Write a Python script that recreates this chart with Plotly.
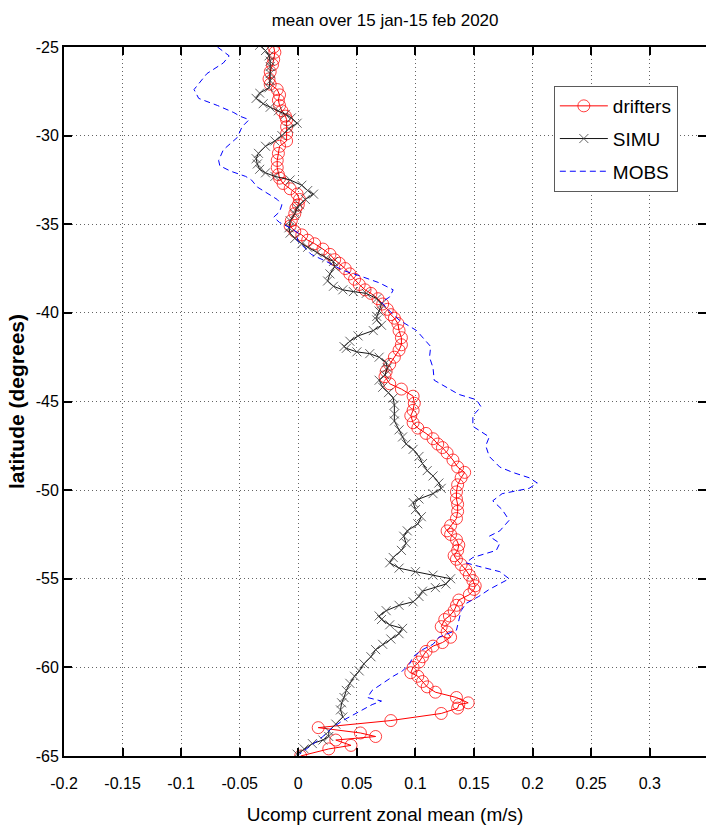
import plotly.graph_objects as go

# ---- data ----
drifters_lat = [-25.0, -25.3, -25.7, -26.0, -26.4, -26.8, -27.1, -27.4, -27.7, -28.0, -28.3, -28.6, -28.9,
                -29.1, -29.5, -29.9, -30.3, -30.6, -31.0, -31.4, -31.8, -32.2, -32.4, -32.7, -33.0, -33.3,
                -33.6, -33.9, -34.1, -34.4, -34.8, -35.1, -35.4, -35.6, -35.9, -36.1, -36.4, -36.7, -37.0,
                -37.2, -37.5, -37.8, -38.1, -38.4, -38.7, -38.9, -39.2, -39.5, -39.8, -40.1, -40.3, -40.6,
                -41.0, -41.4, -41.8, -42.1, -42.5, -42.9, -43.3, -43.6, -44.0, -44.3, -44.7, -45.1, -45.5,
                -45.8, -46.2, -46.5, -46.8, -47.1, -47.4, -47.6, -47.9, -48.3, -48.7, -49.0, -49.3, -49.7,
                -50.1, -50.5, -50.8, -51.2, -51.6, -52.0, -52.3, -52.5, -52.8, -53.1, -53.4, -53.7, -53.9,
                -54.2, -54.5, -54.8, -55.1, -55.4, -55.6, -55.9, -56.2, -56.5, -56.8, -57.1, -57.3, -57.7,
                -58.0, -58.3, -58.6, -58.8, -59.1, -59.4, -59.7, -60.0, -60.3, -60.5, -60.8, -61.1, -61.4,
                -61.7, -62.0, -62.1, -62.3, -62.6, -63.0, -63.4, -63.7, -63.9, -64.1, -64.4, -64.6, -65.0]
drifters_u = [-0.021, -0.020, -0.021, -0.022, -0.024, -0.025, -0.024, -0.018, -0.016, -0.017, -0.016, -0.014,
              -0.011, -0.010, -0.010, -0.010, -0.010, -0.016, -0.017, -0.018, -0.018, -0.017, -0.016, -0.013,
              -0.007, -0.001, 0.001, 0.000, -0.002, -0.003, -0.006, -0.007, -0.003, 0.003, 0.008, 0.014,
              0.021, 0.027, 0.031, 0.035, 0.040, 0.044, 0.048, 0.052, 0.057, 0.062, 0.068, 0.072, 0.076,
              0.079, 0.082, 0.085, 0.086, 0.088, 0.088, 0.086, 0.082, 0.078, 0.075, 0.074, 0.078, 0.088,
              0.098, 0.099, 0.098, 0.096, 0.098, 0.102, 0.109, 0.115, 0.119, 0.123, 0.127, 0.132, 0.136,
              0.142, 0.139, 0.136, 0.135, 0.135, 0.136, 0.136, 0.135, 0.130, 0.127, 0.130, 0.135, 0.137,
              0.136, 0.133, 0.135, 0.139, 0.143, 0.146, 0.149, 0.151, 0.150, 0.146, 0.137, 0.135, 0.133,
              0.129, 0.125, 0.122, 0.127, 0.130, 0.123, 0.115, 0.109, 0.106, 0.103, 0.098, 0.096, 0.102,
              0.106, 0.110, 0.117, 0.135, 0.145, 0.137, 0.136, 0.122, 0.079, 0.017, 0.053, 0.066, 0.032,
              0.045, 0.026, 0.002]

simu_lat = [-24.9, -25.2, -25.5, -25.8, -26.1, -26.5, -26.9, -27.3, -27.6, -27.9, -28.2, -28.4, -28.6, -28.8,
            -29.0, -29.3, -29.6, -30.0, -30.3, -30.6, -31.0, -31.3, -31.6, -31.9, -32.1, -32.3, -32.5, -32.8,
            -33.1, -33.3, -33.6, -33.9, -34.1, -34.4, -34.8, -35.2, -35.5, -35.8, -36.1, -36.3, -36.6, -36.9,
            -37.1, -37.4, -37.8, -38.2, -38.5, -38.7, -38.8, -38.9, -39.2, -39.5, -39.9, -40.2, -40.4, -40.7,
            -41.0, -41.3, -41.6, -41.9, -42.0, -42.2, -42.3, -42.5, -42.8, -43.1, -43.5, -43.8, -44.2, -44.5,
            -44.8, -45.2, -45.7, -46.1, -46.6, -47.0, -47.4, -47.7, -48.1, -48.5, -48.9, -49.2, -49.6, -49.9,
            -50.2, -50.5, -50.7, -51.1, -51.5, -51.9, -52.3, -52.6, -53.0, -53.4, -53.8, -54.1, -54.4, -54.6,
            -54.8, -55.0, -55.3, -55.5, -55.7, -56.0, -56.3, -56.5, -56.8, -57.1, -57.3, -57.6, -57.8, -58.1,
            -58.4, -58.7, -59.0, -59.4, -59.8, -60.2, -60.5, -60.9, -61.3, -61.7, -62.0, -62.4, -62.8, -63.2,
            -63.6, -63.9, -64.1, -64.3, -64.6, -64.9]
simu_u = [-0.033, -0.028, -0.025, -0.024, -0.024, -0.024, -0.024, -0.025, -0.033, -0.036, -0.030, -0.024,
          -0.017, -0.011, -0.006, -0.001, -0.008, -0.014, -0.020, -0.028, -0.034, -0.036, -0.035, -0.033,
          -0.028, -0.020, -0.007, 0.003, 0.008, 0.013, 0.006, 0.001, -0.001, -0.003, -0.007, -0.008,
          -0.007, -0.003, 0.003, 0.008, 0.016, 0.024, 0.030, 0.031, 0.027, 0.025, 0.030, 0.038, 0.047,
          0.058, 0.067, 0.071, 0.069, 0.067, 0.067, 0.071, 0.064, 0.051, 0.044, 0.039, 0.041, 0.050,
          0.061, 0.069, 0.075, 0.076, 0.074, 0.069, 0.072, 0.077, 0.081, 0.082, 0.082, 0.082, 0.086,
          0.089, 0.092, 0.098, 0.103, 0.106, 0.110, 0.115, 0.120, 0.122, 0.115, 0.103, 0.098, 0.100,
          0.105, 0.102, 0.093, 0.090, 0.092, 0.088, 0.081, 0.078, 0.086, 0.100, 0.115, 0.130, 0.126,
          0.117, 0.106, 0.103, 0.098, 0.086, 0.075, 0.069, 0.071, 0.078, 0.089, 0.086, 0.079, 0.072,
          0.066, 0.062, 0.056, 0.052, 0.048, 0.044, 0.041, 0.039, 0.037, 0.036, 0.038, 0.032, 0.026,
          0.026, 0.021, 0.012, 0.005, -0.001]

mobs_lat = [-25.0, -25.5, -25.9, -26.5, -27.4, -27.9, -28.3, -28.7, -28.9, -29.1, -29.5, -30.1, -30.8, -31.4,
            -31.7, -32.0, -32.3, -32.5, -32.9, -33.3, -33.6, -33.9, -34.3, -34.6, -34.9, -35.2, -35.5, -35.9,
            -36.7, -37.1, -37.6, -37.9, -38.3, -38.7, -39.1, -39.4, -39.9, -40.4, -41.0, -41.6, -41.9, -42.5,
            -43.1, -43.8, -44.2, -44.6, -44.9, -45.3, -45.8, -46.4, -47.0, -47.5, -48.1, -48.7, -49.0, -49.3,
            -49.6, -49.9, -50.2, -50.6, -51.1, -51.7, -52.3, -52.6, -53.0, -53.4, -53.8, -54.1, -54.3, -54.6,
            -55.0, -55.3, -55.6, -56.0, -56.4, -56.8, -57.3, -57.9, -58.3, -58.7, -59.0, -59.4, -59.8, -60.2,
            -60.5, -60.9, -61.3, -61.7, -61.9, -62.1, -62.5, -63.0, -63.4, -63.9, -64.5, -64.9]
mobs_u = [-0.069, -0.059, -0.064, -0.078, -0.089, -0.085, -0.069, -0.055, -0.050, -0.042, -0.048, -0.052,
          -0.064, -0.068, -0.067, -0.058, -0.045, -0.040, -0.035, -0.025, -0.018, -0.014, -0.016, -0.021,
          -0.016, -0.007, 0.000, -0.001, 0.011, 0.024, 0.038, 0.052, 0.069, 0.081, 0.078, 0.071, 0.078,
          0.086, 0.101, 0.109, 0.113, 0.112, 0.115, 0.116, 0.126, 0.137, 0.152, 0.156, 0.149, 0.149, 0.163,
          0.160, 0.163, 0.172, 0.183, 0.197, 0.204, 0.197, 0.174, 0.166, 0.174, 0.180, 0.172, 0.163, 0.172,
          0.169, 0.149, 0.143, 0.154, 0.172, 0.180, 0.172, 0.163, 0.154, 0.143, 0.139, 0.137, 0.135, 0.120,
          0.115, 0.106, 0.098, 0.095, 0.089, 0.081, 0.072, 0.063, 0.059, 0.071, 0.063, 0.052, 0.038, 0.029,
          0.021, 0.009, 0.001]

x_tickvals = [-0.2, -0.15, -0.1, -0.05, 0, 0.05, 0.1, 0.15, 0.2, 0.25, 0.3]
x_ticktext = ["-0.2", "-0.15", "-0.1", "-0.05", "0", "0.05", "0.1", "0.15", "0.2", "0.25", "0.3"]
y_tickvals = [-65, -60, -55, -50, -45, -40, -35, -30, -25]
y_ticktext = ["-65", "-60", "-55", "-50", "-45", "-40", "-35", "-30", "-25"]

FONT = "Liberation Sans, Arial, sans-serif"

fig = go.Figure()
fig.add_trace(go.Scatter(
    x=drifters_u, y=drifters_lat, name="drifters", mode="lines+markers", legendgroup="a",
    line=dict(color="rgb(255,0,0)", width=1),
    marker=dict(symbol="circle-open", size=12, color="rgba(255,0,0,0.75)", line=dict(width=1)),
))
fig.add_trace(go.Scatter(
    x=simu_u, y=simu_lat, name="SIMU", mode="lines+markers", legendgroup="b",
    line=dict(color="rgb(20,20,20)", width=1),
    marker=dict(symbol="x-thin-open", size=9, color="rgba(60,60,60,0.8)",
                line=dict(width=1, color="rgba(60,60,60,0.8)")),
))
fig.add_trace(go.Scatter(
    x=mobs_u, y=mobs_lat, name="MOBS", mode="lines", legendgroup="c",
    line=dict(color="rgb(0,0,255)", width=1, dash="6px,4px"),
))

axis_common = dict(
    showline=True, linecolor="black", linewidth=2, mirror="ticks",
    ticks="inside", ticklen=8, tickcolor="black", tickwidth=1.5,
    showgrid=True, gridcolor="rgb(100,100,100)", griddash="1px,3px", gridwidth=1,
    zeroline=False, tickfont=dict(family=FONT, size=16, color="black"),
    automargin=False,
)

fig.update_layout(
    width=706, height=827,
    margin=dict(l=64, r=0, t=47, b=71, autoexpand=False),
    paper_bgcolor="white", plot_bgcolor="white",
    title=dict(text="mean over 15 jan-15 feb 2020", x=0.5455, xanchor="center",
               y=1 - 20 / 827, yanchor="middle",
               font=dict(family=FONT, size=17, color="black")),
    xaxis=dict(range=[-0.2, 0.348], tickvals=x_tickvals, ticktext=x_ticktext,
               ticklabelstandoff=12,
               title=dict(text="Ucomp current zonal mean (m/s)", standoff=16,
                          font=dict(family=FONT, size=19, color="black")),
               **axis_common),
    yaxis=dict(range=[-65, -25], tickvals=y_tickvals, ticktext=y_ticktext,
               title=dict(text="<b>latitude (degrees)</b>", standoff=5,
                          font=dict(family=FONT, size=21, color="black")),
               **axis_common),
    legend=dict(x=0.763, y=0.945, xanchor="left", yanchor="top",
                bgcolor="white", bordercolor="rgb(90,90,90)", borderwidth=1,
                font=dict(family=FONT, size=19, color="black"), tracegroupgap=5,
                itemwidth=48),
    showlegend=True,
)

fig.write_html("out.html", config={"displayModeBar": False},
               post_script="document.body.style.margin='0';document.body.style.padding='0';")
